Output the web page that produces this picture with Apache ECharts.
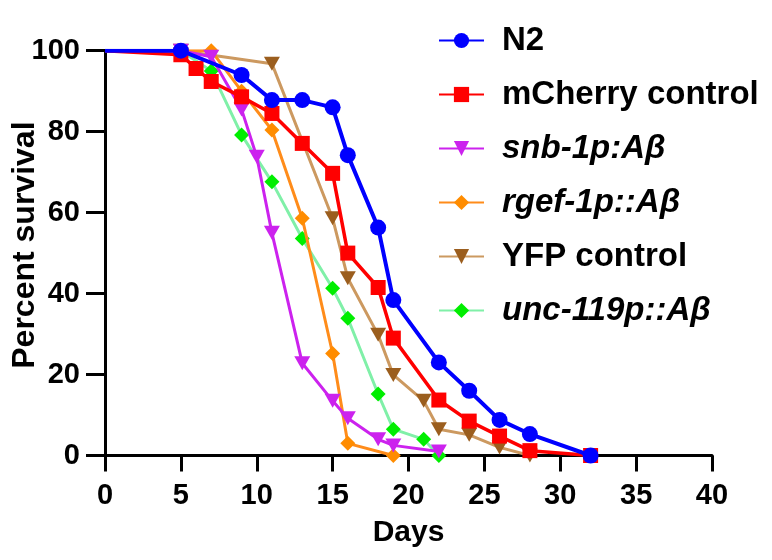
<!DOCTYPE html>
<html>
<head>
<meta charset="utf-8">
<script src="https://cdn.jsdelivr.net/npm/echarts@6/dist/echarts.min.js"></script>
<style>html,body{margin:0;padding:0;background:#fff}#c{width:772px;height:560px}</style>
</head>
<body>
<div id="c"></div>
<script>
const seriesNames = ['N2', 'mCherry control', 'snb-1p:Aβ', 'rgef-1p::Aβ', 'YFP control', 'unc-119p::Aβ'];
const n2Data = [[0,100],[5,100],[9,94],[11,87.8],[13,87.8],[15,86],[16,74.2],[18,56.3],[19,38.4],[22,23],[24,16],[26,8.8],[28,5.3],[32,0]];
const mcherryData = [[0,100],[5,99],[6,95.6],[7,92.4],[9,88.6],[11,84.5],[13,77.1],[15,69.7],[16,50],[18,41.5],[19,29],[22,13.7],[24,8.5],[26,4.8],[28,1.2],[32,0]];
const snbData = [[0,100],[5,100],[7,98.5],[9,85.5],[10,73.8],[11,55],[13,22.8],[15,13.5],[16,9.2],[18,4],[19,2.5],[22,1]];
const rgefData = [[0,100],[5,100],[7,100],[9,90],[11,80.4],[13,58.6],[15,25.2],[16,3],[19,0]];
const yfpData = [[0,100],[5,100],[11,96.8],[15,58.6],[16,43.8],[18,29.8],[19,19.9],[21,13.5],[22,6.5],[24,5.1],[26,2],[28,0]];
const uncData = [[0,100],[5,100],[7,95],[9,79.2],[11,67.6],[13,53.6],[15,41.3],[16,33.9],[18,15.2],[19,6.5],[21,4],[22,0]];
const xTicks = [0,5,10,15,20,25,30,35,40];
const yTicks = [0,20,40,60,80,100];

const FONT = '"Liberation Sans", Arial, sans-serif';
const triDown = 'path://M0,0L20,0L10,17Z';

function pts(arr) {
  return arr.map((p, i) => i === 0 ? {value: p, symbol: 'none'} : {value: p});
}

function mk(name, data, lineColor, markColor, symbol, size, width, z) {
  return {
    name: name, type: 'line', data: pts(data), z: z,
    symbol: symbol, symbolSize: size,
    lineStyle: {color: lineColor, width: width},
    itemStyle: {color: markColor, borderWidth: 0},
    emphasis: {disabled: true},
    animation: false
  };
}

const chart = echarts.init(document.getElementById('c'), null, {renderer: 'canvas'});
chart.setOption({
  backgroundColor: '#fff',
  animation: false,
  grid: {left: 105, right: 60, top: 50.7, bottom: 104.5, containLabel: false, outerBoundsMode: 'none'},
  xAxis: {
    type: 'value', min: xTicks[0], max: xTicks[xTicks.length-1], interval: 5,
    name: 'Days', nameLocation: 'middle', nameGap: 62, nameMoveOverlap: false,
    nameTextStyle: {fontFamily: FONT, fontWeight: 'bold', fontSize: 30, color: '#000'},
    axisLine: {lineStyle: {color: '#000', width: 3}},
    axisTick: {length: 16, lineStyle: {color: '#000', width: 3}},
    axisLabel: {margin: 26, fontFamily: FONT, fontWeight: 'bold', fontSize: 29, color: '#000'},
    splitLine: {show: false}
  },
  yAxis: {
    type: 'value', min: yTicks[0], max: yTicks[yTicks.length-1], interval: 20,
    name: 'Percent survival', nameLocation: 'middle', nameGap: 64, nameMoveOverlap: false,
    nameTextStyle: {fontFamily: FONT, fontWeight: 'bold', fontSize: 32, color: '#000', padding: [0,0,0,16]},
    axisLine: {lineStyle: {color: '#000', width: 3}},
    axisTick: {length: 19, lineStyle: {color: '#000', width: 3}},
    axisLabel: {margin: 25, fontFamily: FONT, fontWeight: 'bold', fontSize: 29, color: '#000'},
    splitLine: {show: false}
  },
  legend: {
    orient: 'vertical', left: 433, top: 19, itemWidth: 45, itemHeight: 19, itemGap: 21,
    textStyle: {fontFamily: FONT, fontWeight: 'bold', fontSize: 33, color: '#000', padding: [0,0,0,13]},
    data: [
      {name: seriesNames[0]},
      {name: seriesNames[1]},
      {name: seriesNames[2], textStyle: {fontStyle: 'italic'}},
      {name: seriesNames[3], textStyle: {fontStyle: 'italic'}},
      {name: seriesNames[4]},
      {name: seriesNames[5], textStyle: {fontStyle: 'italic'}}
    ],
    selectedMode: false
  },
  series: [
    mk(seriesNames[0], n2Data, '#0000FF', '#0000FF', 'circle', 16, 4, 8),
    mk(seriesNames[1], mcherryData, '#FF0000', '#FF0000', 'rect', 15, 3.5, 7),
    mk(seriesNames[2], snbData, '#CC22EE', '#CC22EE', triDown, [16,14], 3, 6),
    mk(seriesNames[3], rgefData, '#FF8C1A', '#FF8C00', 'diamond', 15, 3, 5),
    mk(seriesNames[4], yfpData, '#CC9960', '#9B5E1E', triDown, [16,14], 3, 4),
    mk(seriesNames[5], uncData, '#80F0A8', '#00EE00', 'diamond', 15, 3, 3)
  ]
});
</script>
</body>
</html>
